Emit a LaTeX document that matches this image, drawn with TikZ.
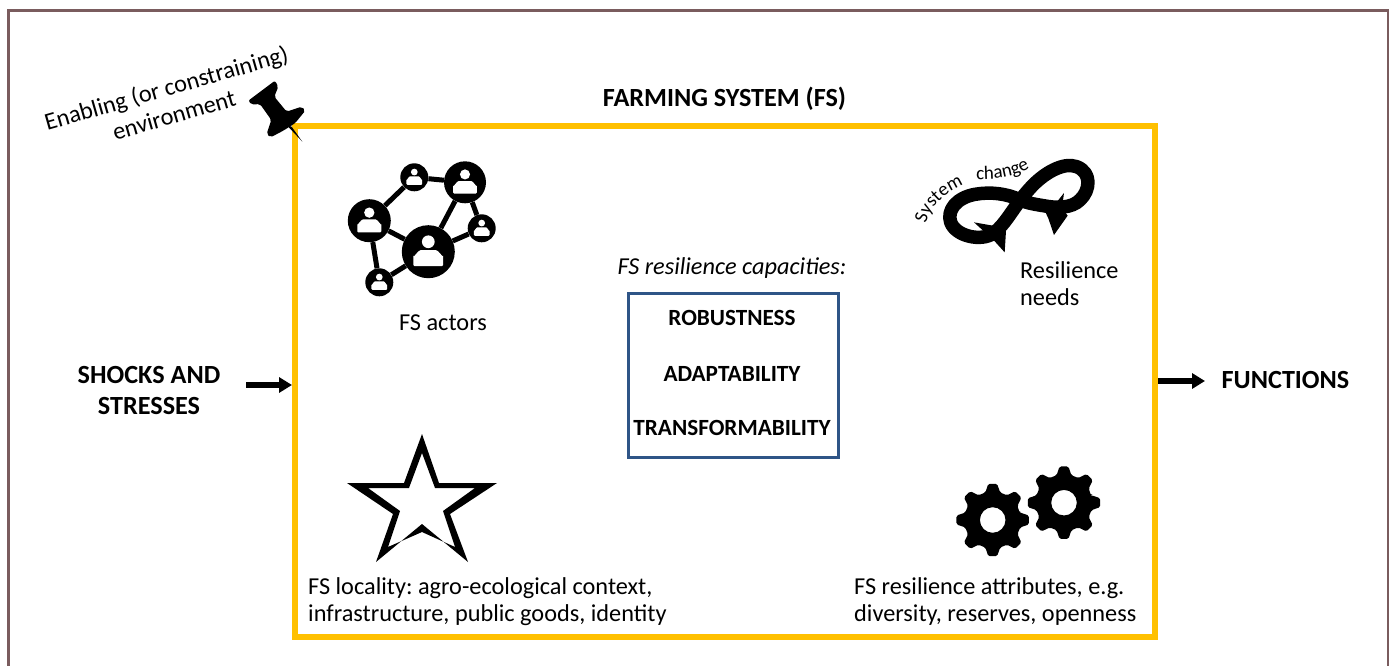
\documentclass[tikz,border=0pt]{standalone}
\usepackage{fontspec}
\setmainfont{Carlito}
\usetikzlibrary{arrows.meta,decorations.text}
\definecolor{framebrown}{HTML}{7A5C5E}
\definecolor{fsyellow}{HTML}{FFC000}
\definecolor{capblue}{HTML}{2F5587}
\tikzset{
  lbl/.style={font=\fontsize{24.3}{27}\selectfont,align=left,inner sep=0pt},
  bold/.style={font=\fontsize{26.2}{31}\selectfont\bfseries,align=center,inner sep=0pt},
  capword/.style={font=\fontsize{23.2}{28}\selectfont\bfseries,align=center,inner sep=0pt},
  actor/.style={circle,fill=black,inner sep=0pt},
  link/.style={line width=5pt,black},
  flow/.style={line width=5.5pt,black,-{Triangle[length=13pt,width=15pt]}},
}
\newcommand{\personicon}[2]{%
  \begin{scope}[shift={(#1)}]
    \fill[white] (0,-.375*#2) circle ({.24*#2});
    \fill[white,rounded corners=1pt] ({-.56*#2},{.54*#2}) -- ({-.56*#2},{.12*#2}) to[out=-90,in=180] ({-.25*#2},{-.06*#2}) -- ({.25*#2},{-.06*#2}) to[out=0,in=-90] ({.56*#2},{.12*#2}) -- ({.56*#2},{.54*#2}) -- cycle;
  \end{scope}}
\newcommand{\gearicon}[1]{%
  \fill[shift={(#1)},even odd rule,rounded corners=1.6pt,black]
    (-15:28)
    \foreach \a in {0,45,...,315} { -- (\a-15:28.5) -- (\a-7:36.5) -- (\a+7:36.5) -- (\a+15:28.5) }
    -- cycle (0,0) circle (12.8);}
\begin{document}
\frenchspacing
\begin{tikzpicture}[x=1pt,y=-1pt]
\useasboundingbox (0,0) rectangle (1392,666);
\draw[framebrown,line width=2.5pt] (8.5,668) -- (8.5,10.5) -- (1388,10.5) -- (1388,668);
% main frame
\node[draw=fsyellow,line width=6pt,minimum width=860pt,minimum height=511pt,inner sep=0pt,outer sep=0pt] (fs) at (725,381.5) {};
\node[bold] (fstitle) at (724.5,99) {FARMING SYSTEM (FS)};
% capacities box
\node[draw=capblue,line width=3pt,minimum width=210pt,minimum height=164pt,inner sep=0pt] (cap) at (733,375) {};
\node[lbl,font=\fontsize{24.3}{27}\selectfont\itshape] (captitle) at (732,268) {FS resilience capacities:};
\node[capword] (rob) at (732,318) {ROBUSTNESS};
\node[capword] (ada) at (732,374) {ADAPTABILITY};
\node[capword] (tra) at (732,428) {TRANSFORMABILITY};
% side labels
\node[bold] (shocks) at (149,390) {SHOCKS AND\\STRESSES};
\node[bold] (func) at (1285.5,380) {FUNCTIONS};
\coordinate (inL) at (246,385);
\coordinate (inR) at (292,385);
\coordinate (outL) at (1158,381);
\coordinate (outR) at (1205,381);
\draw[flow] (inL) -- (inR);
\draw[flow] (outL) -- (outR);
% network
\node[actor,minimum size=53pt] (a) at (428.3,251.7) {};
\node[actor,minimum size=43pt] (b) at (369.3,220.7) {};
\node[actor,minimum size=28pt] (c) at (414.3,177.3) {};
\node[actor,minimum size=42pt] (d) at (465,182.3) {};
\node[actor,minimum size=28pt] (e) at (481.7,228.3) {};
\node[actor,minimum size=28pt] (f) at (379.3,282.3) {};
\draw[link] (c) -- (b);
\draw[link] (c) -- (d);
\draw[link] (d) -- (a);
\draw[link] (d) -- (e);
\draw[link] (e) -- (a);
\draw[link] (b) -- (a);
\draw[link] (b) -- (f);
\draw[link] (f) -- (a);
\personicon{a}{26.5}
\personicon{b}{21.5}
\personicon{c}{14}
\personicon{d}{21}
\personicon{e}{14}
\personicon{f}{14}
\node[lbl] (actors) at (443,323) {FS actors};
% pin
\begin{scope}[shift={(30,30)},x=.3333pt,y=-.3333pt]
\fill[black,rounded corners=2pt] (655,212) -- (735,152) -- (745,170) -- (733,200) -- (770,245) -- (815,230) -- (826,242) -- (795,280) -- (760,302) -- (722,322) -- (710,312) -- (724,270) -- (690,222) -- (665,224) -- cycle;
\fill[black] (770,285) -- (817,335) -- (785,290) -- cycle;
\end{scope}
\node[lbl,align=center,rotate=16,font=\fontsize{24.3}{28}\selectfont] (env) at (170,101) {Enabling (or constraining)\\environment};
% infinity
\begin{scope}[shift={(900,145)},x=.3333pt,y=-.3333pt]
\draw[black,line width=13.5pt,line join=round]
  (360,165) .. controls (320,145) and (270,140) .. (225,148)
  .. controls (170,158) and (140,195) .. (152,232)
  .. controls (168,275) and (245,290) .. (280,265)
  .. controls (320,235) and (340,185) .. (390,130)
  .. controls (430,85) and (490,50) .. (530,65)
  .. controls (575,82) and (572,135) .. (540,165)
  .. controls (515,190) and (470,190) .. (430,182)
  .. controls (405,178) and (385,175) .. cycle;
\fill[black] (222,232) -- (290,244) -- (318,258) -- (314,322) -- (276,280) -- (255,262) -- cycle;
\fill[black] (492,144) -- (486,190) -- (503,212) -- (462,270) -- (445,220) -- (425,178) -- (465,178) -- cycle;
\coordinate (sysA) at (78,240);
\coordinate (sysB) at (195,118);
\coordinate (chgA) at (228,102);
\coordinate (chgB) at (390,70);
\path[postaction={decorate,decoration={text along path,text align=center,
   text={|\fontsize{19}{22}\selectfont|System}}}] (sysA) .. controls (85,190) and (130,145) .. (sysB);
\path[postaction={decorate,decoration={text along path,text align=center,
   text={|\fontsize{19}{22}\selectfont|change}}}] (chgA) .. controls (280,105) and (340,100) .. (chgB);
\end{scope}
\node[lbl,anchor=west] (needs) at (1020,284) {Resilience\\needs};
% star
\fill[black,even odd rule] (422,434) -- (439,483) -- (497,483) -- (450,514) -- (468,562) -- (422,524) -- (376,562) -- (393,514) -- (347,483) -- (404,483) -- cycle
  (422,453) -- (435,488) -- (475,488) -- (443,511) -- (455,547) -- (422,532) -- (388,547) -- (400,511) -- (368,488) -- (409,488) -- cycle;
\node[lbl,anchor=west] (loc) at (308,602) {FS locality: agro-ecological context,\\infrastructure, public goods, identity};
% gears
\gearicon{992.7,520}
\gearicon{1064,502.7}
\node[lbl,anchor=west] (attr) at (854,602) {FS resilience attributes, e.g.\\diversity, reserves, openness};
\end{tikzpicture}
\end{document}
